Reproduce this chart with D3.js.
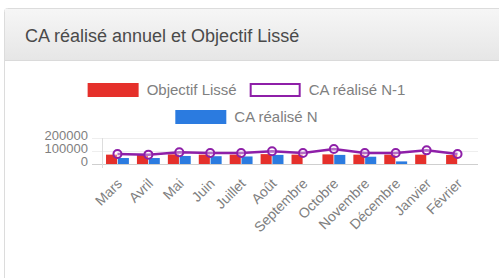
<!DOCTYPE html>
<html>
<head>
<meta charset="utf-8">
<script src="https://cdn.jsdelivr.net/npm/d3@7/dist/d3.min.js"></script>
<style>
  html, body { margin: 0; padding: 0; background: #fff; }
  svg { display: block; font-family: "Liberation Sans", Arial, Helvetica, sans-serif; }
</style>
</head>
<body>
<svg id="chart" width="499" height="278"></svg>
<script>
var TITLE = "CA réalisé annuel et Objectif Lissé";
var months = ["Mars", "Avril", "Mai", "Juin", "Juillet", "Août", "Septembre", "Octobre", "Novembre", "Décembre", "Janvier", "Février"];
var objectifLisse = [72000, 70000, 74000, 72000, 72000, 76000, 72000, 74000, 72000, 72000, 72000, 70000];
var caN = [46000, 46000, 62000, 60000, 58000, 70000, 0, 70000, 56000, 20000, 0, 0];
var caN1 = [77000, 72000, 90000, 84000, 84000, 98000, 85000, 115000, 84000, 85000, 105000, 77000];
var yTicks = [0, 100000, 200000];

var RED = "#e5302b", BLUE = "#2b7be0", PURPLE = "#8e1fa8";

var svg = d3.select("#chart");

// panel + heading
var defs = svg.append("defs");
var grad = defs.append("linearGradient").attr("id", "head").attr("x1", 0).attr("x2", 0).attr("y1", 0).attr("y2", 1);
grad.append("stop").attr("offset", "0%").attr("stop-color", "#f6f6f6");
grad.append("stop").attr("offset", "100%").attr("stop-color", "#e6e6e6");

svg.append("rect")
	.attr("x", 4.5).attr("y", 8.5).attr("width", 500).attr("height", 290)
	.attr("rx", 3).attr("fill", "#fff").attr("stroke", "#dcdcdc");
svg.append("rect")
	.attr("x", 5).attr("y", 9).attr("width", 499).attr("height", 51)
	.attr("fill", "url(#head)");
svg.append("line")
	.attr("x1", 5).attr("x2", 499).attr("y1", 60.5).attr("y2", 60.5)
	.attr("stroke", "#dadada");
svg.append("text")
	.attr("x", 25).attr("y", 42)
	.attr("font-size", 18).attr("fill", "#4a4a4a")
	.text(TITLE);

// scales
var x = d3.scaleBand().domain(months).range([102, 473]);
var y = d3.scaleLinear().domain([0, 200000]).range([164, 138]);
var inner = d3.scaleBand().domain(["obj", "n"]).range([0, x.bandwidth() * 0.74]).paddingInner(0.06);
var groupOffset = (x.bandwidth() - x.bandwidth() * 0.74) / 2;

// gridlines
var g = svg.append("g");
g.selectAll("line.grid").data(yTicks).enter().append("line")
	.attr("class", "grid")
	.attr("x1", 92).attr("x2", 478)
	.attr("y1", function(d) { return Math.round(y(d)) + 0.5; })
	.attr("y2", function(d) { return Math.round(y(d)) + 0.5; })
	.attr("stroke", function(d) { return d === 0 ? "#cfcfcf" : "#eeeeee"; });
g.append("line")
	.attr("x1", 102.5).attr("x2", 102.5).attr("y1", y(200000)).attr("y2", 168)
	.attr("stroke", "#dddddd");

// y axis labels
var yAxis = d3.axisLeft(y).tickValues(yTicks).tickSize(0).tickPadding(0).tickFormat(d3.format("d"));
var ya = svg.append("g").attr("transform", "translate(88,-3)").call(yAxis);
ya.select(".domain").remove();
ya.selectAll("text").attr("font-size", 13).attr("fill", "#808080").attr("font-family", "Liberation Sans, Arial, sans-serif");

// x labels
var xAxis = d3.axisBottom(x).tickSize(0).tickPadding(0);
var xa = svg.append("g").attr("transform", "translate(2,181)").call(xAxis);
xa.select(".domain").remove();
xa.selectAll("text")
	.attr("font-size", 14).attr("fill", "#808080").attr("font-family", "Liberation Sans, Arial, sans-serif")
	.attr("text-anchor", "end").attr("dy", "0.35em").attr("y", 0)
	.attr("transform", "rotate(-45)");

// bars
var bars = svg.append("g");
bars.selectAll("rect.obj").data(objectifLisse).enter().append("rect")
	.attr("class", "obj")
	.attr("x", function(d, i) { return x(months[i]) + groupOffset + inner("obj"); })
	.attr("width", inner.bandwidth())
	.attr("y", function(d) { return y(d); })
	.attr("height", function(d) { return y(0) - y(d); })
	.attr("fill", RED);
bars.selectAll("rect.n").data(caN).enter().append("rect")
	.attr("class", "n")
	.attr("x", function(d, i) { return x(months[i]) + groupOffset + inner("n"); })
	.attr("width", inner.bandwidth())
	.attr("y", function(d) { return y(d); })
	.attr("height", function(d) { return y(0) - y(d); })
	.attr("fill", BLUE);

// line N-1
var line = d3.line()
	.x(function(d, i) { return x(months[i]) + x.bandwidth() / 2; })
	.y(function(d) { return y(d); });
svg.append("path").datum(caN1)
	.attr("d", line).attr("fill", "none")
	.attr("stroke", PURPLE).attr("stroke-width", 2.5);
svg.selectAll("circle.pt").data(caN1).enter().append("circle")
	.attr("class", "pt")
	.attr("cx", function(d, i) { return x(months[i]) + x.bandwidth() / 2; })
	.attr("cy", function(d) { return y(d); })
	.attr("r", 4)
	.attr("fill", "rgba(255,255,255,0.35)")
	.attr("stroke", PURPLE).attr("stroke-width", 2);

// legend
var legendRows = [
	[{label: "Objectif Lissé", fill: RED, stroke: RED}, {label: "CA réalisé N-1", fill: "#fff", stroke: PURPLE}],
	[{label: "CA réalisé N", fill: BLUE, stroke: BLUE}]
];
var rowY = [90, 117];
var legend = svg.append("g");
legendRows.forEach(function(row, r) {
	var rg = legend.append("g");
	var cx = 0;
	row.forEach(function(item) {
		rg.append("rect")
			.attr("x", cx + 1).attr("y", rowY[r] - 6).attr("width", 49).attr("height", 12)
			.attr("fill", item.fill).attr("stroke", item.stroke).attr("stroke-width", 2);
		var t = rg.append("text")
			.attr("x", cx + 59).attr("y", rowY[r]).attr("dy", "0.35em")
			.attr("font-size", 15).attr("fill", "#808080")
			.text(item.label);
		cx += 59 + t.node().getComputedTextLength() + 13;
	});
	var w = cx - 13;
	rg.attr("transform", "translate(" + (246.5 - w / 2) + ",0)");
});
</script>
</body>
</html>
